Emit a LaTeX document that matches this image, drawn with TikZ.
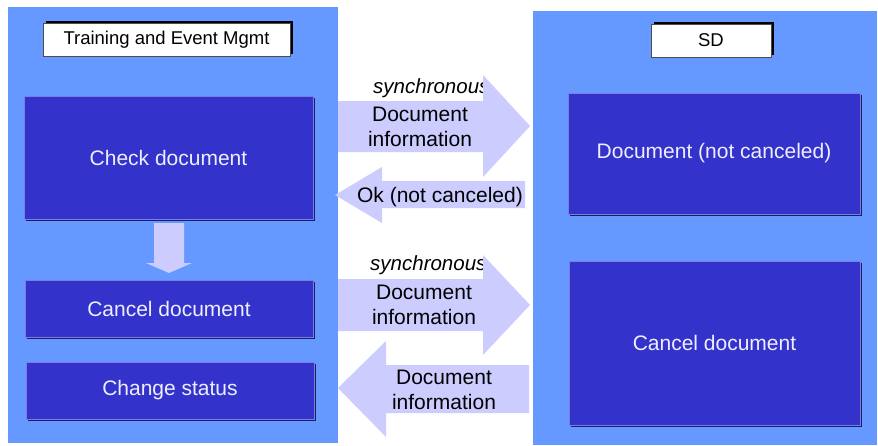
\documentclass[tikz,border=0pt]{standalone}
\usepackage{fontspec}
\setmainfont{Liberation Sans}
\usetikzlibrary{shadows}
\definecolor{panel}{RGB}{102,153,255}
\definecolor{boxc}{RGB}{51,51,204}
\definecolor{arrowc}{RGB}{204,204,255}
\definecolor{boxtext}{RGB}{238,238,255}
\definecolor{boxedge}{RGB}{125,125,225}
\definecolor{boxshadow}{RGB}{28,28,100}
\begin{document}
\begin{tikzpicture}[x=1pt,y=-1pt,
  panelbox/.style={fill=panel, draw=none},
  procbox/.style={rectangle, fill=boxc, draw=boxedge, line width=0.6pt, inner sep=0pt,
    text=boxtext, font=\fontsize{21}{25}\selectfont,
    drop shadow={shadow xshift=1.5pt, shadow yshift=-1.5pt, opacity=1, fill=boxshadow}},
  titlebox/.style={rectangle, fill=white, draw=black!70, line width=0.5pt, inner sep=0pt,
    minimum height=33pt, font=\fontsize{18.5}{21}\selectfont,
    drop shadow={shadow xshift=3pt, shadow yshift=2.5pt, opacity=1, fill=black}},
  blockarrow/.style={fill=arrowc, draw=none},
  arrowtext/.style={inner sep=0pt, align=center, font=\fontsize{21}{25}\selectfont},
  synctext/.style={inner sep=0pt, font=\fontsize{20.5}{24}\selectfont\itshape}]
\useasboundingbox (0,0) rectangle (878,445);
\fill[white] (0,0) rectangle (878,445);
% panels
\path[panelbox] (8,7) rectangle (338,443);
\path[panelbox] (533,11) rectangle (877,445);
% title boxes
\node[titlebox, minimum width=247pt] (tem) at (166.5,39.5) {Training and Event Mgmt};
\node[titlebox, minimum width=120pt] (sd) at (711,40.5) {SD};
% process boxes
\node[procbox, minimum width=289pt, minimum height=123pt] (check) at (168.5,157.5) {Check document};
\node[procbox, minimum width=288pt, minimum height=57pt] (cancelL) at (169,308.5) {Cancel document};
\node[procbox, minimum width=288pt, minimum height=57pt] (status) at (170,390.5) {Change status};
\node[procbox, minimum width=292pt, minimum height=121pt] (docnc) at (714,153.5) {Document (not canceled)};
\node[procbox, minimum width=291pt, minimum height=164pt] (cancelR) at (714.5,343) {Cancel document};
% down arrow between check and cancel
\path[blockarrow] (154,223) -- (184,223) -- (184,263) -- (192,263) -- (169,273) -- (146,263) -- (154,263) -- cycle;
% synchronous labels (partly covered by arrow heads)
\node[synctext, anchor=base west] (sync1) at (373,93) {synchronous};
\node[synctext, anchor=base west] (sync2) at (370,270) {synchronous};
% block arrows
\path[blockarrow] (338,101) -- (483,101) -- (483,75) -- (530,126) -- (483,177) -- (483,152) -- (338,152) -- cycle;
\path[blockarrow] (335,195) -- (382,167) -- (382,181) -- (525,181) -- (525,208) -- (382,208) -- (382,223) -- cycle;
\path[blockarrow] (338,279) -- (483,279) -- (483,255) -- (530,305) -- (483,355) -- (483,331) -- (338,331) -- cycle;
\path[blockarrow] (338,388) -- (386,341) -- (386,365) -- (529,365) -- (529,413) -- (386,413) -- (386,437) -- cycle;
% arrow texts
\node[arrowtext] (a1) at (420,127) {Document\\information};
\node[arrowtext, anchor=base] (a2) at (440,202) {Ok (not canceled)};
\node[arrowtext] (a3) at (424,305) {Document\\information};
\node[arrowtext] (a4) at (444,389.5) {Document\\information};
\end{tikzpicture}
\end{document}
